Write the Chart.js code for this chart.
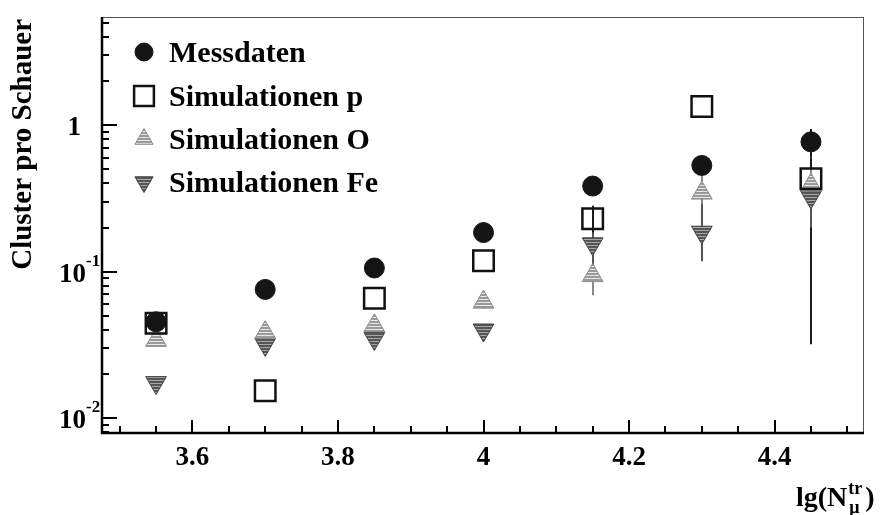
<!DOCTYPE html>
<html>
<head>
<meta charset="utf-8">
<script src="https://cdn.jsdelivr.net/npm/chart.js@4/dist/chart.umd.min.js"></script>
<style>
  html, body { margin: 0; padding: 0; background: #fff; }
  #wrap { width: 881px; height: 515px; }
</style>
</head>
<body>
<div id="wrap"><canvas id="cluster"></canvas></div>
<script>
// lg(N_mu^tr) bins
const lgNmu = [3.55, 3.7, 3.85, 4.0, 4.15, 4.3, 4.45];

// cluster per shower
const messdaten = [0.0455, 0.0757, 0.106, 0.185, 0.384, 0.531, 0.769];
const simP      = [0.0445, 0.0154, 0.0659, 0.1186, 0.230, 1.34, 0.430];
const simO      = [0.034, 0.0384, 0.0428, 0.062, 0.094, 0.344, 0.39];
const simFe     = [0.0175, 0.0319, 0.035, 0.040, 0.155, 0.186, 0.323];

// error bar limits, null where no bar is visible
const messLo = [null, null, null, null, null, 0.45, 0.60];
const messHi = [null, null, null, null, null, 0.60, 0.94];
const pLo    = [null, null, null, null, 0.177, null, 0.032];
const pHi    = [null, null, null, null, 0.282, null, 0.60];
const oLo    = [null, null, null, 0.056, 0.069, 0.22, 0.30];
const oHi    = [null, null, null, 0.068, 0.12, 0.50, 0.50];
const feLo   = [null, null, null, null, 0.11, 0.118, 0.20];
const feHi   = [null, null, null, null, 0.185, 0.29, 0.40];

const seriesNames = ['Messdaten', 'Simulationen p', 'Simulationen O', 'Simulationen Fe'];

const xTickLabels = ['3.6', '3.8', '4', '4.2', '4.4'];
const yTickValues = [1, 0.1, 0.01];
const yTickBase   = ['1', '10', '10'];
const yTickExp    = ['', '-1', '-2'];

const X_MIN = 3.4757, X_MAX = 4.5229;
const Y_MIN = 0.00793, Y_MAX = 5.47;

const SERIF = '"Liberation Serif", "Times New Roman", serif';

const canvas = document.getElementById('cluster');
const mainCtx = canvas.getContext('2d');

function stripes(dark, light) {
  const c = document.createElement('canvas');
  c.width = 3; c.height = 3;
  const g = c.getContext('2d');
  g.fillStyle = light;
  g.fillRect(0, 0, 3, 3);
  g.fillStyle = dark;
  g.fillRect(0, 0, 3, 2);
  return mainCtx.createPattern(c, 'repeat');
}

const oFill  = stripes('#9a9a9a', '#e8e8e8');
const feFill = stripes('#555555', '#a8a8a8');

function points(ys) {
  return lgNmu.map((x, i) => ({ x: x, y: ys[i] }));
}

const datasets = [
  {
    label: seriesNames[0], data: points(messdaten),
    pointStyle: 'circle', pointRadius: 10,
    backgroundColor: '#151515', borderColor: '#151515', borderWidth: 1,
    errLo: messLo, errHi: messHi, errColor: '#1a1a1a'
  },
  {
    label: seriesNames[1], data: points(simP),
    pointStyle: 'rect', pointRadius: 14.5,
    backgroundColor: 'rgba(0,0,0,0)', borderColor: '#111', borderWidth: 2.5,
    errLo: pLo, errHi: pHi, errColor: '#1a1a1a'
  },
  {
    label: seriesNames[2], data: points(simO),
    pointStyle: 'triangle', pointRadius: 12,
    backgroundColor: oFill, borderColor: '#8a8a8a', borderWidth: 1,
    errLo: oLo, errHi: oHi, errColor: '#888'
  },
  {
    label: seriesNames[3], data: points(simFe),
    pointStyle: 'triangle', pointRotation: 180, pointRadius: 12,
    backgroundColor: feFill, borderColor: '#444', borderWidth: 1,
    errLo: feLo, errHi: feHi, errColor: '#555'
  }
];

// vertical error bars, drawn under the markers
const errorBars = {
  id: 'errorBars',
  beforeDatasetsDraw(chart) {
    const { ctx, scales: { x, y } } = chart;
    ctx.save();
    chart.data.datasets.forEach(ds => {
      ctx.strokeStyle = ds.errColor;
      ctx.lineWidth = 2;
      lgNmu.forEach((v, i) => {
        if (ds.errLo[i] == null) return;
        const px = Math.round(x.getPixelForValue(v));
        ctx.beginPath();
        ctx.moveTo(px, y.getPixelForValue(ds.errLo[i]));
        ctx.lineTo(px, y.getPixelForValue(ds.errHi[i]));
        ctx.stroke();
      });
    });
    ctx.restore();
  }
};

function drawMarker(ctx, ds, cx, cy, r) {
  if (Chart.helpers && Chart.helpers.drawPoint) {
    ctx.save();
    ctx.fillStyle = ds.backgroundColor;
    ctx.strokeStyle = ds.borderColor;
    ctx.lineWidth = ds.borderWidth;
    Chart.helpers.drawPoint(ctx, {
      pointStyle: ds.pointStyle,
      rotation: ds.pointRotation || 0,
      radius: r,
      borderWidth: ds.borderWidth
    }, cx, cy);
    ctx.restore();
  }
}

// frame, inward ticks, tick labels, axis titles and legend
const frame = {
  id: 'frame',
  afterDraw(chart) {
    const { ctx, chartArea: a, scales: { x, y } } = chart;
    ctx.save();

    // frame
    ctx.strokeStyle = '#555';
    ctx.lineWidth = 1;
    ctx.beginPath();
    ctx.moveTo(a.left, a.top + 0.5);
    ctx.lineTo(a.right, a.top + 0.5);
    ctx.moveTo(a.right - 0.5, a.top);
    ctx.lineTo(a.right - 0.5, a.bottom);
    ctx.stroke();
    ctx.strokeStyle = '#000';
    ctx.lineWidth = 2.5;
    ctx.beginPath();
    ctx.moveTo(a.left, a.top);
    ctx.lineTo(a.left, a.bottom);
    ctx.lineTo(a.right, a.bottom);
    ctx.stroke();

    // x ticks every 0.05, long ones every 0.2
    ctx.lineWidth = 2;
    ctx.beginPath();
    for (let k = 70; k <= 90; k++) {
      const v = k * 0.05;
      if (v < X_MIN || v > X_MAX) continue;
      const px = Math.round(x.getPixelForValue(v));
      const len = (k % 4 === 0) ? 13 : 7;
      ctx.moveTo(px, a.bottom);
      ctx.lineTo(px, a.bottom - len);
    }
    ctx.stroke();

    // y ticks at 1..9 x 10^n, long ones at decades
    ctx.beginPath();
    for (let e = -3; e <= 0; e++) {
      for (let m = 1; m <= 9; m++) {
        const v = m * Math.pow(10, e);
        if (v < Y_MIN || v > Y_MAX) continue;
        const py = Math.round(y.getPixelForValue(v));
        const len = (m === 1) ? 15 : 7;
        ctx.moveTo(a.left, py);
        ctx.lineTo(a.left + len, py);
      }
    }
    ctx.stroke();

    ctx.fillStyle = '#000';

    // x tick labels
    ctx.font = 'bold 27px ' + SERIF;
    ctx.textAlign = 'center';
    ctx.textBaseline = 'alphabetic';
    xTickLabels.forEach(t => {
      ctx.fillText(t, x.getPixelForValue(parseFloat(t)), 465);
    });

    // y tick labels with exponents
    yTickValues.forEach((v, i) => {
      const py = y.getPixelForValue(v);
      ctx.font = 'bold 27px ' + SERIF;
      ctx.textAlign = 'right';
      ctx.fillText(yTickBase[i], i === 0 ? 81 : 86, py + 10);
      if (yTickExp[i]) {
        ctx.font = 'bold 17px ' + SERIF;
        ctx.textAlign = 'left';
        ctx.fillText(yTickExp[i], 86, py - 6);
      }
    });

    // y title, aligned to the top of the axis
    ctx.save();
    ctx.translate(31, a.top + 2);
    ctx.rotate(-Math.PI / 2);
    ctx.font = 'bold 29px ' + SERIF;
    ctx.textAlign = 'right';
    ctx.fillText('Cluster pro Schauer', 0, 0);
    ctx.restore();

    // x title lg(N_mu^tr)
    ctx.textAlign = 'left';
    ctx.font = 'bold 28px ' + SERIF;
    const x0 = 796;
    ctx.fillText('lg(N', x0, 506);
    const wMain = ctx.measureText('lg(N').width;
    ctx.font = 'bold 18px ' + SERIF;
    ctx.fillText('tr', x0 + wMain + 1, 494);
    const wSup = ctx.measureText('tr').width;
    ctx.fillText('\u03bc', x0 + wMain + 2, 513);
    ctx.font = 'bold 28px ' + SERIF;
    ctx.fillText(')', x0 + wMain + wSup + 4, 506);

    // legend
    const rows = [52, 96, 139, 182];
    const sizes = [9, 14, 10.5, 10.5];
    ctx.font = 'bold 30px ' + SERIF;
    chart.data.datasets.forEach((ds, i) => {
      drawMarker(ctx, ds, 144, rows[i], sizes[i]);
      ctx.fillStyle = '#000';
      ctx.textAlign = 'left';
      ctx.textBaseline = 'alphabetic';
      ctx.font = 'bold 30px ' + SERIF;
      ctx.fillText(ds.label, 169, rows[i] + 10);
    });

    ctx.restore();
  }
};

new Chart(canvas, {
  type: 'scatter',
  data: { datasets: datasets },
  options: {
    responsive: true,
    maintainAspectRatio: false,
    animation: false,
    layout: { padding: { top: 10, right: 2, left: 0, bottom: 0 } },
    plugins: {
      legend: { display: false },
      tooltip: { enabled: false }
    },
    scales: {
      x: {
        type: 'linear',
        min: X_MIN,
        max: X_MAX,
        grid: { display: false },
        border: { display: false },
        ticks: { display: false },
        afterFit(scale) { scale.height = 82; }
      },
      y: {
        type: 'logarithmic',
        min: Y_MIN,
        max: Y_MAX,
        grid: { display: false },
        border: { display: false },
        ticks: { display: false },
        afterFit(scale) { scale.width = 102; }
      }
    }
  },
  plugins: [errorBars, frame]
});
</script>
</body>
</html>
